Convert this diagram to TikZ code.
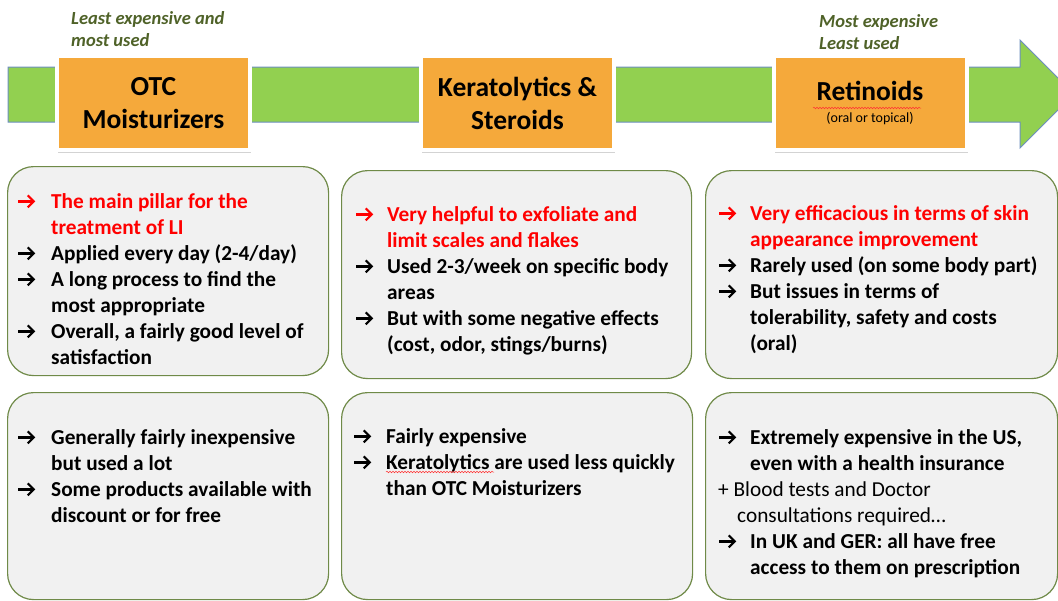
\documentclass[tikz,border=0pt]{standalone}
\usepackage{fontspec}
\setmainfont{Carlito}
\usetikzlibrary{positioning,shadows,decorations.pathmorphing,arrows.meta}

\definecolor{barGreen}{HTML}{92D050}
\definecolor{barEdge}{HTML}{6C8EBF}
\definecolor{stageOrange}{HTML}{F5A93B}
\definecolor{panelFill}{HTML}{F1F1F1}
\definecolor{panelEdge}{HTML}{6F8A48}
\definecolor{noteGreen}{HTML}{4F6228}

\tikzset{
  bar/.style={fill=barGreen, draw=barEdge, line width=1pt},
  stagebox/.style={fill=stageOrange, draw=white, line width=4pt,
    drop shadow={opacity=0.35, shadow xshift=1pt, shadow yshift=-2.5pt},
    minimum width=193pt, minimum height=94pt, align=center,
    font=\fontsize{27.5}{33}\selectfont\bfseries},
  panel/.style={fill=panelFill, draw=panelEdge, line width=1.2pt, rounded corners=26pt,
    anchor=north west, inner sep=0pt},
  notes/.style={anchor=north west, inner sep=0pt, align=left,
    font=\fontsize{21.3}{26}\selectfont\bfseries},
  tag/.style={anchor=north west, inner sep=0pt, align=left, text=noteGreen,
    font=\fontsize{18.5}{22}\selectfont\bfseries\itshape},
  pointer/.style={line width=2.2pt, -{Straight Barb[length=6pt,width=12pt,line width=2.2pt]}},
  typo/.style={red!80, line width=0.5pt, decorate,
    decoration={snake, amplitude=0.8pt, segment length=3pt}}
}

\newcommand{\ar}{\tikz[baseline=-7pt]\draw[pointer] (0pt,0pt) -- (17pt,0pt);}
\newcommand{\hot}[1]{\textcolor{red}{#1}}

\begin{document}
\begin{tikzpicture}[x=1pt,y=-1pt]
\useasboundingbox (0,0) rectangle (1058,600);
\clip (0,0) rectangle (1058,600);

% timeline arrow
\draw[bar] (8,67) -- (1020,67) -- (1020,40) -- (1074,94) -- (1020,148)
  -- (1020,122) -- (8,122) -- cycle;

% stages
\node[stagebox] (otc) at (153.5,103) {OTC\\Moisturizers};
\node[stagebox] (kera) at (517.5,103) {Keratolytics \&\\Steroids};
\node[stagebox] (reti) at (870,103) {Retinoids\\[-11pt]
  {\fontsize{14}{15}\selectfont\mdseries (oral or topical)}};
\draw[typo] (813,108) -- (921,108);

\node[tag] (cheap) at (71,11) {Least expensive and\\most used};
\node[tag] (dear) at (819,14) {Most expensive\\Least used};

% panels
\node[panel, minimum width=321pt, minimum height=209pt] (otcTop) at (7,166) {};
\node[panel, minimum width=350pt, minimum height=208pt] (keraTop) at (341,170) {};
\node[panel, minimum width=352pt, minimum height=208pt] (retiTop) at (705,170) {};
\node[panel, minimum width=321pt, minimum height=207pt] (otcLow) at (7,392) {};
\node[panel, minimum width=351pt, minimum height=207pt] (keraLow) at (341,392) {};
\node[panel, minimum width=352pt, minimum height=207pt] (retiLow) at (705,392) {};

% panel texts
\node[notes] (otcTopText) at (17,190) {\begin{tabular}{@{}p{34pt}@{}l@{}}
  \hot{\ar} & \hot{The main pillar for the}\\
   & \hot{treatment of LI}\\
  \ar & Applied every day (2-4/day)\\
  \ar & A long process to find the\\
   & most appropriate\\
  \ar & Overall, a fairly good level of\\
   & satisfaction
\end{tabular}};

\node[notes] (keraTopText) at (355,203) {\begin{tabular}{@{}p{32pt}@{}l@{}}
  \hot{\ar} & \hot{Very helpful to exfoliate and}\\
   & \hot{limit scales and flakes}\\
  \ar & Used 2-3/week on specific body\\
   & areas\\
  \ar & But with some negative effects\\
   & (cost, odor, stings/burns)
\end{tabular}};

\node[notes] (retiTopText) at (718,202) {\begin{tabular}{@{}p{32pt}@{}l@{}}
  \hot{\ar} & \hot{Very efficacious in terms of skin}\\
   & \hot{appearance improvement}\\
  \ar & Rarely used (on some body part)\\
  \ar & But issues in terms of\\
   & tolerability, safety and costs\\
   & (oral)
\end{tabular}};

\node[notes] (otcLowText) at (17,426) {\begin{tabular}{@{}p{34pt}@{}l@{}}
  \ar & Generally fairly inexpensive\\
   & but used a lot\\
  \ar & Some products available with\\
   & discount or for free
\end{tabular}};

\node[notes] (keraLowText) at (353,425) {\begin{tabular}{@{}p{33pt}@{}l@{}}
  \ar & Fairly expensive\\
  \ar & Keratolytics are used less quickly\\
   & than OTC Moisturizers
\end{tabular}};
\draw[typo] (386,472) -- (494,472);

\node[notes] (retiLowText) at (718,426) {\begin{tabular}{@{}p{32pt}@{}l@{}}
  \ar & Extremely expensive in the US,\\
   & even with a health insurance\\
  \multicolumn{2}{@{}l@{}}{\mdseries + Blood tests and Doctor}\\
  \multicolumn{2}{@{}l@{}}{\mdseries\hspace{19pt}consultations required…}\\
  \ar & In UK and GER: all have free\\
   & access to them on prescription
\end{tabular}};
\end{tikzpicture}
\end{document}
